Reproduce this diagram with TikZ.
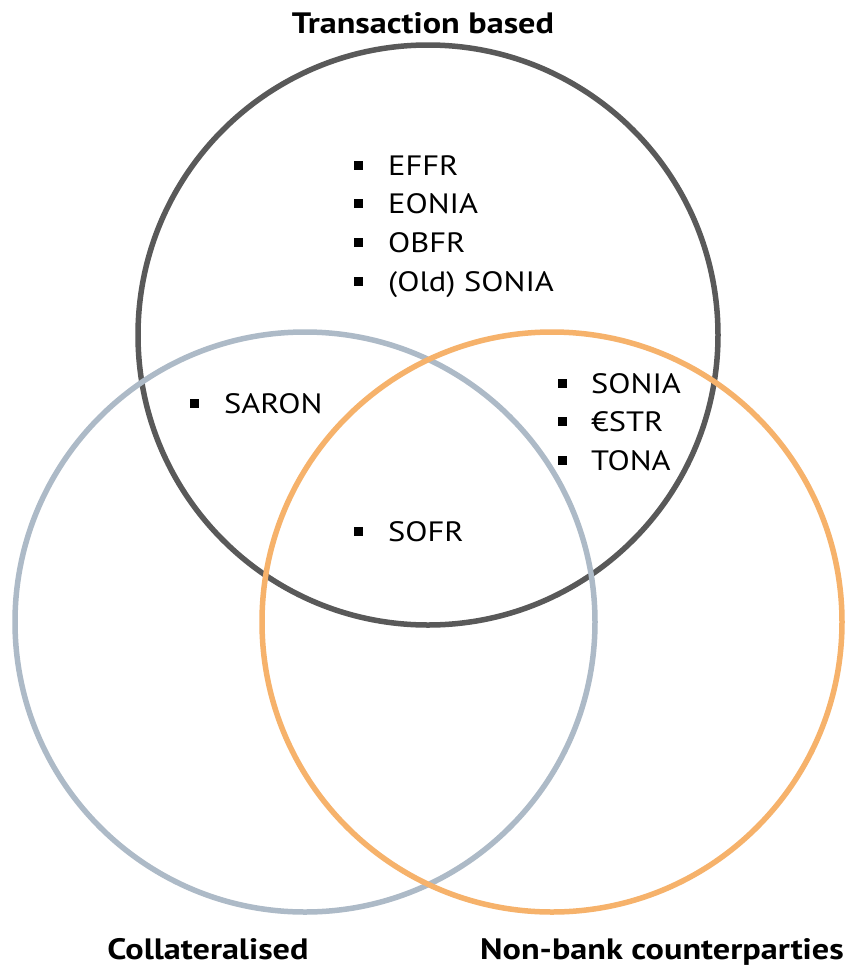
\documentclass[tikz,border=0pt]{standalone}
\usepackage{fontspec}
\setmainfont{PT Sans}[FakeStretch=1.16]
\definecolor{cdark}{HTML}{595959}
\definecolor{cgrey}{HTML}{ADBAC7}
\definecolor{corange}{HTML}{F6B26B}
\begin{document}
\begin{tikzpicture}[x=1pt,y=-1pt,
  ring/.style={line width=5.5pt},
  item/.style={anchor=base west,inner sep=0pt,font=\fontsize{28}{30}\selectfont},
  title/.style={anchor=base,inner sep=0pt,font=\fontsize{29.5}{31}\selectfont\bfseries},
  bul/.style={fill=black,minimum size=9pt,inner sep=0pt,draw=none}]
\useasboundingbox[fill=white] (0,0) rectangle (852,970);
\draw[ring,cdark] (428,335) circle[radius=290];
\draw[ring,cgrey] (305,622) circle[radius=290];
\draw[ring,corange] (552,622) circle[radius=290];
\node[title] (tt) at (423,33) {Transaction based};
\node[title] (tc) at (208,959) {Collateralised};
\node[title] (tn) at (662,959) {Non-bank counterparties};
% top set
\foreach \t/\y [count=\i] in {EFFR/175,EONIA/213.7,OBFR/252.4,(Old) SONIA/291}{
  \node[bul] (b\i) at (358,\y-10) {};
  \node[item] (t\i) at (388,\y) {\t};
}
\node[bul] (bs) at (194,403) {};
\node[item] (ts) at (224,413) {SARON};
\foreach \t/\y [count=\i] in {SONIA/393,€STR/431.5,TONA/470}{
  \node[bul] (c\i) at (562,\y-10) {};
  \node[item] (u\i) at (591,\y) {\t};
}
\node[bul] (bo) at (358,531) {};
\node[item] (to) at (388,541) {SOFR};
\end{tikzpicture}
\end{document}
